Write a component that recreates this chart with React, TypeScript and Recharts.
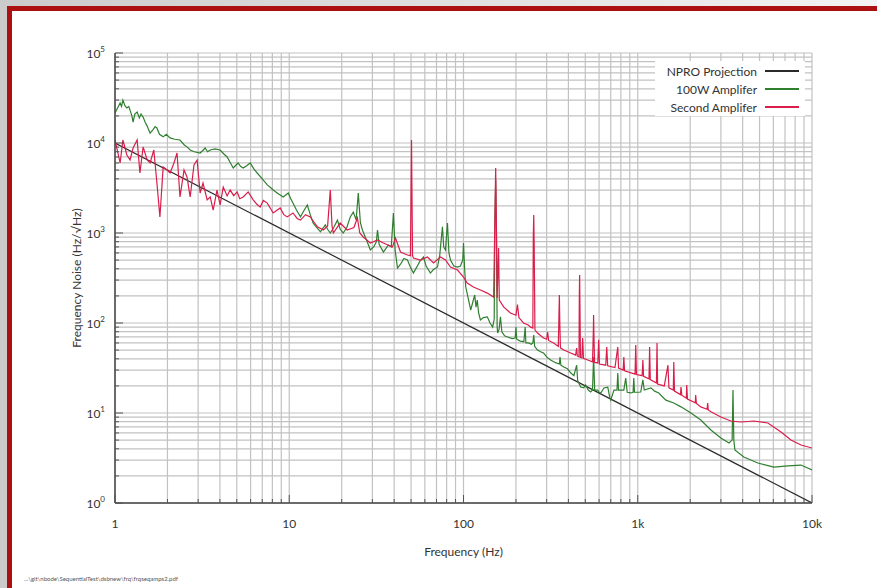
import React from 'react';
import { LineChart, Line, XAxis, YAxis, CartesianGrid, Legend } from 'recharts';

const FONT = 'Lato, "Open Sans", sans-serif';

const xDecades = [1, 10, 100, 1000, 10000];
const xTickLabels = ['1', '10', '100', '1k', '10k'];
const yDecades = [1, 10, 100, 1000, 10000, 100000];
const yTickExponents = ['0', '1', '2', '3', '4', '5'];
const minorMultiples = [1, 2, 3, 4, 5, 6, 7, 8, 9];

const seriesNames = ['NPRO Projection', '100W Amplifer', 'Second Amplifer'];
const seriesColors = ['#2a2a2a', '#2f7f2f', '#d91e4c'];

const xTitle = 'Frequency (Hz)';
const yTitle = 'Frequency Noise (Hz/\u221AHz)';
const filePath = '...\\git\\nbode\\SequentialTest\\dsbnew\\frq\\frqseqamps2.pdf';

// [frequency Hz, noise Hz/rtHz]
const nproProjection: [number, number][] = [
  [1, 10000], [10000, 1],
];

const amp100W: [number, number][] = [
  [1, 21500], [1.04, 25000], [1.07, 27800], [1.09, 25500], [1.11, 30000], [1.14, 26000],
  [1.17, 24500], [1.2, 25500], [1.22, 23200], [1.25, 20000], [1.27, 17100], [1.3, 21000],
  [1.34, 22100], [1.38, 19000], [1.41, 21000], [1.45, 19400], [1.49, 17000], [1.53, 15400],
  [1.56, 14000], [1.59, 12900], [1.65, 14000], [1.7, 15200], [1.74, 14700], [1.8, 12500],
  [1.89, 11700], [1.97, 12500], [2.07, 11400], [2.2, 11000], [2.36, 10800], [2.5, 9500],
  [2.6, 9000], [2.7, 8360], [2.85, 8000], [3.08, 7740], [3.18, 8200], [3.29, 8800],
  [3.4, 8000], [3.52, 8360], [3.75, 8600], [4.01, 8360], [4.2, 7600], [4.4, 6990],
  [4.6, 6000], [4.77, 5280], [4.95, 5700], [5.09, 6000], [5.25, 5500], [5.44, 5280],
  [5.7, 5600], [5.97, 6000], [6.25, 5200], [6.55, 4640], [7, 4000], [7.48, 3420],
  [7.8, 3200], [8.09, 3000], [8.6, 2750], [9.24, 2510], [9.87, 2780], [10.2, 2400],
  [10.5, 2150], [11, 1800], [11.6, 1510], [12.2, 1800], [12.7, 2050], [13.2, 1600],
  [13.7, 1290], [14.4, 1150], [15.1, 1030], [16.1, 1230], [16.6, 1100], [17.2, 1000],
  [18, 1150], [18.9, 1390], [19.6, 1100], [20.4, 1000], [21.4, 1150], [22.4, 1510],
  [23.3, 1710], [24.2, 1400], [24.9, 2780], [25.6, 1300], [26.3, 1080], [28, 800],
  [29.2, 647], [30.5, 700], [31.6, 800], [32.1, 1080], [32.8, 750], [34.7, 615],
  [36, 680], [37.1, 736], [38.5, 700], [39.6, 1670], [40.5, 650], [41.8, 408],
  [43.5, 450], [45.5, 520], [47.7, 501], [49.5, 420], [51.6, 359], [54, 420],
  [56, 480], [58.9, 541], [61, 430], [64.6, 359], [67, 390], [70.9, 419],
  [73, 560], [75.7, 1170], [77, 700], [78.8, 647], [80.9, 1290], [82.5, 600],
  [84.2, 501], [88, 430], [92.4, 419], [96, 430], [99, 500], [100, 774],
  [101.5, 400], [103, 251], [107, 180], [110, 139], [113, 170], [116, 205],
  [118, 150], [120, 180], [122, 130], [125, 108], [130, 115], [137, 117],
  [142, 100], [147, 90], [150, 110], [151.5, 1500], [153, 3900], [154.5, 1000],
  [156, 90], [157, 77.4], [160, 85], [163, 117], [166, 80], [172, 72],
  [179, 69.9], [190, 67], [198, 68], [200, 90], [202, 66], [212, 63],
  [222, 62], [226, 90], [228, 60], [236, 60], [245, 58], [250, 60],
  [253, 73.6], [256, 55], [266, 50.1], [277, 48], [288, 46.4], [300, 42],
  [316, 38.8], [340, 36], [355, 35], [358, 41.9], [362, 34], [376, 32.4],
  [395, 31], [412, 28], [430, 26], [446, 34], [452, 23], [470, 19.4],
  [490, 19], [502, 20.5], [520, 18], [537, 17.1], [550, 18], [558, 41.9],
  [566, 18], [589, 18], [600, 17], [613, 16.7], [640, 19], [673, 19.4],
  [690, 15], [700, 13.9], [730, 18], [760, 18], [768, 27.8], [776, 18],
  [810, 18], [832, 18], [853, 24.5], [870, 17], [912, 16.7], [940, 17],
  [949, 24.5], [958, 17], [1000, 17], [1040, 17.1], [1070, 23.3], [1090, 18],
  [1190, 19], [1250, 17.5], [1320, 16.7], [1450, 13.9], [1610, 12.9], [1770, 11.7],
  [2020, 10], [2300, 8.36], [2630, 6.47], [3000, 5.28], [3340, 4.64], [3480, 5],
  [3520, 18], [3560, 5], [3610, 3.88], [4060, 3.24], [4890, 2.78], [6050, 2.51],
  [7280, 2.58], [8650, 2.64], [10000, 2.33],
];

const secondAmp: [number, number][] = [
  [1, 10800], [1.07, 6000], [1.11, 10800], [1.17, 7360], [1.22, 6470], [1.27, 8800],
  [1.34, 10800], [1.39, 4640], [1.45, 9030], [1.53, 6470], [1.59, 6000], [1.67, 8360],
  [1.74, 3590], [1.81, 1510], [1.89, 5410], [1.99, 5010], [2.07, 4640], [2.18, 6000],
  [2.27, 7740], [2.36, 2510], [2.49, 5010], [2.59, 4190], [2.7, 2510], [2.84, 5700],
  [2.96, 6470], [3.08, 2780], [3.2, 3590], [3.38, 2330], [3.52, 2510], [3.66, 1800],
  [3.85, 3000], [4.01, 2050], [4.18, 3240], [4.4, 2580], [4.58, 3000], [4.8, 2600],
  [5.02, 2860], [5.2, 2400], [5.44, 2510], [5.81, 2860], [6.21, 2330], [6.5, 2100],
  [6.81, 1940], [7.1, 2300], [7.48, 2150], [8.09, 1670], [8.87, 1900], [9.3, 1600],
  [9.74, 1510], [10.5, 1670], [11.1, 1450], [11.6, 1390], [12.4, 1600], [13.2, 1510],
  [14.5, 1170], [15.7, 1080], [16.6, 1200], [17.2, 3000], [17.6, 1200], [17.9, 1000],
  [19.6, 1290], [21.5, 1080], [23.5, 1150], [24.6, 1470], [25.4, 1000], [26.6, 903],
  [29.2, 774], [32.1, 836], [34.7, 774], [39.1, 699], [40.7, 880], [43.5, 615],
  [47.7, 570], [49.6, 560], [50.3, 10800], [51, 560], [51.6, 527], [56.6, 501],
  [62.1, 541], [67.3, 464], [73.8, 541], [78.8, 501], [84.2, 419], [92.4, 388],
  [100, 324], [105, 278], [114, 251], [125, 233], [137, 215], [149, 194],
  [151.5, 1500], [153, 5280], [154.5, 1200], [156, 190], [159, 681], [160.5, 180],
  [170, 151], [186, 129], [200, 122], [204, 160], [208, 115], [221, 100],
  [235, 95], [243, 90], [250, 88], [251.5, 900], [253, 1580], [254.5, 700],
  [257, 84], [266, 77.4], [288, 68.1], [300, 66], [304, 79.4], [308, 64],
  [329, 60], [350, 55], [353, 120], [355, 205], [357, 100], [360, 53],
  [376, 50.1], [412, 46.4], [440, 44], [446, 52.7], [450, 43], [460, 42],
  [462, 200], [464, 341], [466, 150], [469, 41.5], [478, 41], [483, 68],
  [488, 40.5], [516, 38.8], [550, 37], [556, 80], [558, 123], [560, 80],
  [565, 36.5], [590, 36], [597, 65], [603, 35], [655, 34], [664, 54],
  [672, 33.5], [740, 32], [768, 54], [776, 31.5], [825, 30], [832, 41.9],
  [840, 29.5], [965, 27], [974, 57], [983, 26.8], [1060, 26], [1070, 38.8],
  [1080, 25.5], [1160, 24], [1170, 54], [1180, 23.5], [1280, 21.5], [1290, 60],
  [1300, 21], [1420, 20], [1490, 34], [1510, 19], [1600, 18], [1610, 36.9],
  [1625, 17.5], [1760, 16], [1770, 19.4], [1790, 15.8], [1900, 14.6], [1910, 20.5],
  [1930, 14.3], [2140, 13], [2150, 15.8], [2170, 12.8], [2300, 11.7], [2500, 11],
  [2520, 12.9], [2540, 10.8], [2630, 10.3], [3000, 9.03], [3420, 8.15], [3910, 7.94],
  [4640, 8.15], [5580, 7.74], [6640, 6.15], [7570, 5.01], [8650, 4.41], [10000, 4.08],
];

function logTicks(decades: number[]) {
  const out: number[] = [];
  decades.forEach((d, i) => {
    if (i === decades.length - 1) out.push(d);
    else minorMultiples.forEach((m) => out.push(d * m));
  });
  return out;
}

const xTicks = logTicks(xDecades);
const yTicks = logTicks(yDecades);

const toPoints = (arr: [number, number][]) => arr.map(([f, v]) => ({ f, v }));

const TICK_COLOR = '#555';
const MAJOR = 8;
const MINOR = 4;

const BottomTick = (props: any) => {
  const { x, y, payload } = props;
  const i = xDecades.indexOf(payload.value);
  const len = i >= 0 ? MAJOR : MINOR;
  return (
    <g>
      <line x1={x} x2={x} y1={y} y2={y - len} stroke={TICK_COLOR} strokeWidth={1} />
      {i >= 0 && (
        <text x={x} y={y + 25} textAnchor="middle" fontFamily={FONT} fontSize={12} fill="#333">
          {xTickLabels[i]}
        </text>
      )}
    </g>
  );
};

const TopTick = (props: any) => {
  const { x, y, payload } = props;
  const i = xDecades.indexOf(payload.value);
  const len = i >= 0 ? MAJOR : MINOR;
  return <line x1={x} x2={x} y1={y} y2={y + len} stroke={TICK_COLOR} strokeWidth={1} />;
};

const LeftTick = (props: any) => {
  const { x, y, payload } = props;
  const i = yDecades.indexOf(payload.value);
  const len = i >= 0 ? MAJOR : MINOR;
  return (
    <g>
      <line x1={x} x2={x + len} y1={y} y2={y} stroke={TICK_COLOR} strokeWidth={1} />
      {i >= 0 && (
        <text x={x - 10} y={y + 5} textAnchor="end" fontFamily={FONT} fontSize={12} fill="#333">
          <tspan>10</tspan>
          <tspan dy={-6} fontSize={8}>{yTickExponents[i]}</tspan>
        </text>
      )}
    </g>
  );
};

const RightTick = (props: any) => {
  const { x, y, payload } = props;
  const i = yDecades.indexOf(payload.value);
  const len = i >= 0 ? MAJOR : MINOR;
  return <line x1={x} x2={x - len} y1={y} y2={y} stroke={TICK_COLOR} strokeWidth={1} />;
};

const LegendBox = () => (
  <div style={{ background: '#fff', fontFamily: FONT, fontSize: 12, color: '#333', paddingRight: 6, paddingTop: 1 }}>
    {seriesNames.map((n, i) => (
      <div key={n} style={{ display: 'flex', justifyContent: 'flex-end', alignItems: 'center', height: 18 }}>
        <span>{n}</span>
        <div
          style={{
            width: 34,
            height: 2,
            background: seriesColors[i],
            marginLeft: 8,
            flex: '0 0 auto',
          }}
        />
      </div>
    ))}
  </div>
);

const YTitle = (props: any) => {
  const vb = props.viewBox || {};
  const cx = vb.x + 23;
  const cy = vb.y + vb.height / 2;
  return (
    <text
      x={cx}
      y={cy}
      transform={`rotate(-90 ${cx} ${cy})`}
      textAnchor="middle"
      dominantBaseline="middle"
      fontFamily={FONT}
      fontSize={12}
      fill="#333"
    >
      {yTitle}
    </text>
  );
};

const XTitle = (props: any) => {
  const vb = props.viewBox || {};
  const cx = vb.x + vb.width / 2;
  const cy = vb.y + 53;
  return (
    <text x={cx} y={cy} textAnchor="middle" fontFamily={FONT} fontSize={12} fill="#333">
      {xTitle}
    </text>
  );
};

export default function App() {
  return (
    <div
      style={{
        position: 'absolute',
        left: 0,
        top: 0,
        width: 877,
        height: 588,
        overflow: 'hidden',
        background: 'linear-gradient(to right, #cbcbcb, #f3f3f3)',
      }}
    >
      <div
        style={{
          position: 'absolute',
          left: 0,
          top: 6,
          width: 7,
          height: 582,
          background: '#cbcbcb',
        }}
      />
      <div
        style={{
          position: 'absolute',
          left: 7,
          top: 6,
          right: 0,
          bottom: 0,
          background: '#fff',
          borderTop: '5px solid #ad1010',
          borderLeft: '5px solid #ad1010',
        }}
      />
      <div style={{ position: 'absolute', left: 0, top: 0 }}>
        <LineChart width={877} height={588} margin={{ top: 53, right: 65, bottom: 40, left: 55 }}>
          <CartesianGrid stroke="#c2c2c2" strokeWidth={1.2} />
          <XAxis
            dataKey="f"
            type="number"
            scale="log"
            domain={[1, 10000]}
            allowDataOverflow
            ticks={xTicks}
            interval={0}
            tickSize={0}
            tickMargin={0}
            tick={<BottomTick />}
            tickLine={false}
            axisLine={{ stroke: '#444', strokeWidth: 1.5 }}
            height={45}
            label={<XTitle />}
          />
          <XAxis
            xAxisId="top"
            orientation="top"
            type="number"
            scale="log"
            domain={[1, 10000]}
            allowDataOverflow
            ticks={xTicks}
            interval={0}
            tickSize={0}
            tickMargin={0}
            tick={<TopTick />}
            tickLine={false}
            axisLine={{ stroke: '#444', strokeWidth: 1.5 }}
            height={0}
          />
          <YAxis
            type="number"
            scale="log"
            domain={[1, 100000]}
            allowDataOverflow
            ticks={yTicks}
            interval={0}
            tickSize={0}
            tickMargin={0}
            tick={<LeftTick />}
            tickLine={false}
            axisLine={{ stroke: '#444', strokeWidth: 1.5 }}
            width={60}
            label={<YTitle />}
          />
          <YAxis
            yAxisId="right"
            orientation="right"
            type="number"
            scale="log"
            domain={[1, 100000]}
            allowDataOverflow
            ticks={yTicks}
            interval={0}
            tickSize={0}
            tickMargin={0}
            tick={<RightTick />}
            tickLine={false}
            axisLine={{ stroke: '#444', strokeWidth: 1.5 }}
            width={0}
          />
          <Legend
            layout="horizontal"
            verticalAlign="middle"
            align="center"
            content={<LegendBox />}
            wrapperStyle={{ left: 655, top: 61, width: 150, height: 56 }}
          />
          <Line
            name={seriesNames[0]}
            data={toPoints(nproProjection)}
            dataKey="v"
            stroke={seriesColors[0]}
            strokeWidth={1.2}
            dot={false}
            isAnimationActive={false}
          />
          <Line
            name={seriesNames[1]}
            data={toPoints(amp100W)}
            dataKey="v"
            stroke={seriesColors[1]}
            strokeWidth={1.2}
            dot={false}
            isAnimationActive={false}
          />
          <Line
            name={seriesNames[2]}
            data={toPoints(secondAmp)}
            dataKey="v"
            stroke={seriesColors[2]}
            strokeWidth={1.2}
            dot={false}
            isAnimationActive={false}
          />
        </LineChart>
      </div>
      <div
        style={{
          position: 'absolute',
          left: 24,
          top: 575,
          fontFamily: FONT,
          fontSize: 6,
          color: '#555',
          whiteSpace: 'nowrap',
        }}
      >
        {filePath}
      </div>
    </div>
  );
}
